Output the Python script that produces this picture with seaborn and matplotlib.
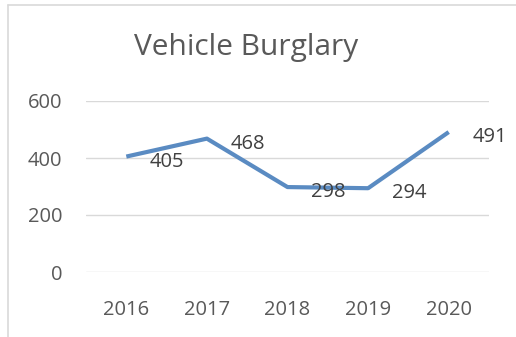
import matplotlib
matplotlib.use("Agg")
import matplotlib.pyplot as plt
import seaborn as sns
import pandas as pd

# Chart data
years = ["2016", "2017", "2018", "2019", "2020"]
burglaries = [405, 468, 298, 294, 491]
y_ticks = [0, 200, 400, 600]

df = pd.DataFrame({"year": years, "count": burglaries})

sns.set_theme(style="white")
plt.rcParams["font.family"] = ["Open Sans", "DejaVu Sans"]

DPI = 100
fig = plt.figure(figsize=(5.16, 3.37), dpi=DPI)
ax = fig.add_axes([86 / 516, (337 - 272) / 337, 403 / 516, 171 / 337])

line_color = "#5a8bc2"
text_color = "#595959"

sns.lineplot(data=df, x="year", y="count", ax=ax, color=line_color,
             linewidth=3.0, sort=False, solid_capstyle="butt")

ax.set_xlim(-0.5, len(years) - 0.5)
ax.set_ylim(0, 600)
ax.set_yticks(y_ticks)
ax.set_yticklabels([str(t) for t in y_ticks])
ax.grid(axis="y", color="#d9d9d9", linewidth=1.0)
ax.set_axisbelow(True)
for s in ax.spines.values():
    s.set_visible(False)
ax.tick_params(axis="both", length=0, labelsize=14.5, colors=text_color)
ax.tick_params(axis="y", pad=17)
ax.tick_params(axis="x", pad=20)
ax.set_xlabel("")
ax.set_ylabel("")

# Value labels to the right of each point
for i, v in enumerate(burglaries):
    ax.annotate(str(v), xy=(i, v), xytext=(17, -3.6), textcoords="offset points",
                ha="left", va="center", fontsize=14.5, color="#404040")

fig.text(246 / 516, 1 - 48 / 337, "Vehicle Burglary", ha="center", va="center",
         fontsize=21.5, color=text_color)

# Chart frame edges (top and left)
fig.add_artist(plt.Line2D([8 / 516, 1], [1 - 5 / 337, 1 - 5 / 337],
                          transform=fig.transFigure, color="#d9d9d9", linewidth=1.2))
fig.add_artist(plt.Line2D([8 / 516, 8 / 516], [0, 1 - 5 / 337],
                          transform=fig.transFigure, color="#d9d9d9", linewidth=1.2))

fig.savefig("out.png", dpi=DPI, facecolor="white")
